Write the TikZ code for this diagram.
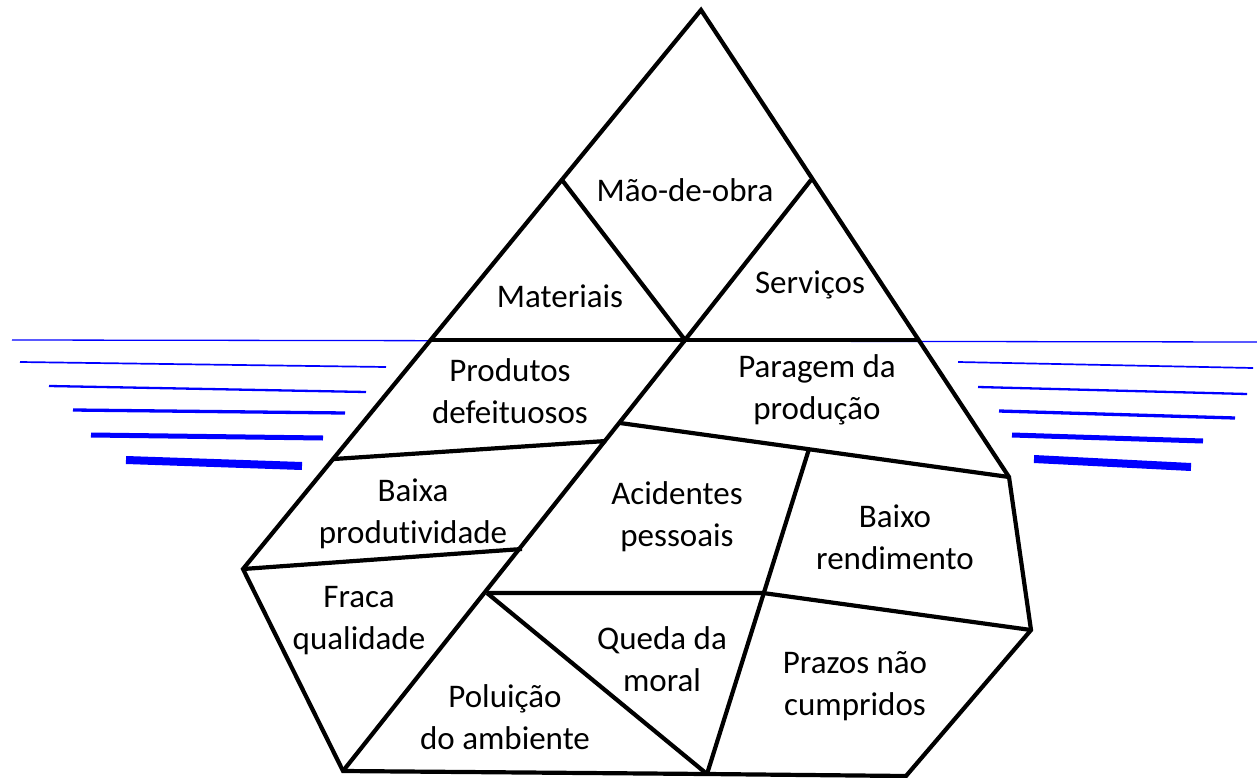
\documentclass[tikz,border=0pt]{standalone}
\usepackage{fontspec}
\setmainfont{Carlito}[Ligatures=NoCommon]
\tikzset{
  berg/.style={line width=4.2pt},
  water/.style={draw=blue},
  lbl/.style={align=center,inner sep=0pt,font=\fontsize{33}{42}\selectfont}
}

\begin{document}
\begin{tikzpicture}[x=1pt,y=-1pt]
  \useasboundingbox (0,0) rectangle (1257,778);

  % water
  \draw[water,line width=1.3pt] (12,340) -- (1257,342);
  \draw[water,line width=1.7pt] (20,362) -- (386,367);
  \draw[water,line width=2.3pt] (49,386) -- (366,392);
  \draw[water,line width=3.3pt] (73,410) -- (345,413);
  \draw[water,line width=5pt] (91,435) -- (323,438);
  \draw[water,line width=8pt] (126,460) -- (302,466);
  \draw[water,line width=1.7pt] (958,362) -- (1253,368);
  \draw[water,line width=2.3pt] (978,387) -- (1247,394);
  \draw[water,line width=3.3pt] (999,411) -- (1235,418);
  \draw[water,line width=5pt] (1012,435) -- (1203,441);
  \draw[water,line width=8pt] (1034,459) -- (1191,467);

  % corners
  \coordinate (apex) at (701,10);
  \coordinate (LL) at (243,569);
  \coordinate (BL) at (343,771);
  \coordinate (BM) at (707,774);
  \coordinate (BR) at (906,776);
  \coordinate (RR) at (1031,630);
  \coordinate (RC) at (1009,477);
  % inner points
  \coordinate (P1) at (562,180);
  \coordinate (P3) at (811,180);
  \coordinate (WL) at (432,340);
  \coordinate (WR) at (918,340);
  \coordinate (M) at (685,340);
  \coordinate (P2) at (334,459);
  \coordinate (D1) at (620,423);
  \coordinate (D2) at (606,441);
  \coordinate (D3) at (522,549);
  \coordinate (D4) at (487,593);
  \coordinate (V1) at (809,449);
  \coordinate (V2) at (763,593);

  \draw[berg] (apex) -- (LL) -- (BL) -- (BM) -- (BR) -- (RR) -- (RC) -- cycle;
  \draw[berg] (P1) -- (M) -- (P3);
  \draw[berg] (WL) -- (WR);
  \draw[berg] (M) -- (BL);
  \draw[berg] (D1) -- (RC);
  \draw[berg] (P2) -- (D2);
  \draw[berg] (LL) -- (D3);
  \draw[berg] (D4) -- (V2) -- (RR);
  \draw[berg] (V1) -- (BM);
  \draw[berg] (D4) -- (BM);

  \node[lbl] (maodeobra) at (685,190) {Mão-de-obra};
  \node[lbl] (materiais) at (560,296) {Materiais};
  \node[lbl] (servicos) at (810,285) {Serviços};
  \node[lbl] (produtos) at (510,391) {Produtos\\defeituosos};
  \node[lbl] (paragem) at (817,390) {Paragem da\\produção};
  \node[lbl] (baixaprod) at (413,514) {Baixa\\produtividade};
  \node[lbl] (acidentes) at (677,517) {Acidentes\\pessoais};
  \node[lbl] (baixorend) at (895,537) {Baixo\\rendimento};
  \node[lbl] (fraca) at (359,621) {Fraca\\qualidade};
  \node[lbl] (queda) at (662,659) {Queda da\\moral};
  \node[lbl] (poluicao) at (505,717) {Poluição\\do ambiente};
  \node[lbl] (prazos) at (855,686) {Prazos não\\cumpridos};
\end{tikzpicture}
\end{document}
